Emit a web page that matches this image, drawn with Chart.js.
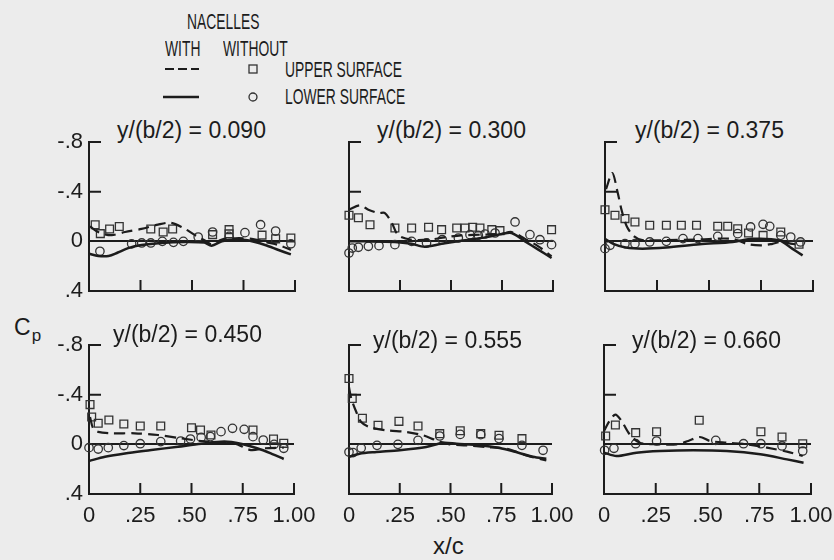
<!DOCTYPE html>
<html>
<head>
<meta charset="utf-8">
<script src="https://cdn.jsdelivr.net/npm/chart.js@4.4.0/dist/chart.umd.min.js"></script>
<style>
body { margin: 0; background: #ececec; width: 834px; height: 560px; overflow: hidden; position: relative;
       font-family: 'Liberation Sans', Arial, sans-serif; color: #1c1c1c; }
canvas, .lbl, svg { position: absolute; }
.lbl { white-space: nowrap; font-size: 22px; line-height: 1; }
.title { font-size: 23px; }
.narrow { font-size: 22px; transform: scaleX(0.63); transform-origin: 0 50%; }
</style>
</head>
<body>
<!-- legend block -->
<div class="lbl narrow" style="left:187px; top:11px">NACELLES</div>
<div class="lbl narrow" style="left:165px; top:38px">WITH</div>
<div class="lbl narrow" style="left:223px; top:38px">WITHOUT</div>
<div class="lbl narrow" style="left:285px; top:59px">UPPER SURFACE</div>
<div class="lbl narrow" style="left:285px; top:86px">LOWER SURFACE</div>
<svg width="834" height="120" style="left:0; top:0">
  <line x1="165" y1="69" x2="199" y2="69" stroke="#1c1c1c" stroke-width="2" stroke-dasharray="9,4"/>
  <rect x="249" y="65" width="8" height="8" fill="none" stroke="#333" stroke-width="1.3"/>
  <line x1="163" y1="97" x2="199" y2="97" stroke="#1c1c1c" stroke-width="2.4"/>
  <circle cx="253" cy="97" r="4" fill="none" stroke="#333" stroke-width="1.3"/>
</svg>
<div class="lbl" style="left:14px; top:316px; font-size:23px">C<span style="font-size:17px; position:relative; top:6px; margin-left:1px">p</span></div>
<div class="lbl" style="left:433px; top:534px; font-size:24px">x/c</div>

<script>
// spanwise stations, one per panel
const stations = ['0.090', '0.300', '0.375', '0.450', '0.555', '0.660'];

const xTickValues = [0, 0.25, 0.5, 0.75, 1];
const xTickLabels = ['0', '.25', '.50', '.75', '1.00'];
const yTickValues = [-0.8, -0.4, 0, 0.4];
const yTickLabels = ['-.8', '-.4', '0', '.4'];

// [x/c, Cp] pairs
// dashed = with nacelles upper, solid = with nacelles lower
// squares = without upper, circles = without lower
const p1Dashed = [[0.005,-0.12],[0.05,-0.07],[0.11,-0.05],[0.175,-0.075],[0.255,-0.1],[0.335,-0.135],[0.395,-0.15],[0.45,-0.115],[0.515,-0.05],[0.57,0],[0.595,0.025],[0.645,-0.015],[0.71,-0.025],[0.79,-0.02],[0.87,0.01],[0.93,0.035],[0.98,0.07]];
const p1Solid = [[0,0.1],[0.045,0.118],[0.095,0.118],[0.14,0.09],[0.19,0.055],[0.255,0.03],[0.35,0.013],[0.465,0.005],[0.56,0.01],[0.595,0.035],[0.645,0],[0.71,-0.015],[0.77,-0.008],[0.855,0.03],[0.92,0.07],[0.98,0.105]];
const p1Squares = [[0.03,-0.134],[0.055,-0.062],[0.1,-0.1],[0.147,-0.12],[0.3,-0.1],[0.36,-0.075],[0.406,-0.1],[0.6,-0.054],[0.68,-0.094],[0.68,-0.06],[0.84,-0.05],[0.906,-0.02],[0.98,-0.027]];
const p1Circles = [[0.053,0.08],[0.207,0.02],[0.256,0.013],[0.3,0.013],[0.356,0],[0.41,0.008],[0.458,0],[0.53,-0.035],[0.6,-0.075],[0.68,-0.04],[0.757,-0.07],[0.833,-0.134],[0.906,-0.083],[0.98,0.02]];

const p2Dashed = [[0,-0.255],[0.054,-0.29],[0.095,-0.255],[0.144,-0.228],[0.176,-0.228],[0.21,-0.148],[0.242,-0.048],[0.307,-0.013],[0.39,-0.013],[0.47,-0.032],[0.55,-0.048],[0.667,-0.054],[0.748,-0.059],[0.797,-0.075],[0.863,-0.02],[0.928,0.04],[0.993,0.12]];
const p2Solid = [[0,0],[0.078,0],[0.225,0.005],[0.307,0.02],[0.37,0.043],[0.454,0.02],[0.55,-0.005],[0.667,-0.032],[0.748,-0.059],[0.797,-0.067],[0.863,0],[0.928,0.067],[0.993,0.134]];
const p2Squares = [[0,-0.21],[0.046,-0.19],[0.103,-0.134],[0.225,-0.107],[0.307,-0.107],[0.39,-0.113],[0.454,-0.094],[0.528,-0.107],[0.569,-0.107],[0.606,-0.113],[0.642,-0.107],[0.7,-0.094],[0.74,-0.086],[0.993,-0.094]];
const p2Circles = [[0,0.094],[0.016,0.054],[0.046,0.048],[0.095,0.04],[0.147,0.035],[0.225,0.027],[0.307,0],[0.38,0.013],[0.457,-0.013],[0.536,-0.027],[0.593,-0.054],[0.634,-0.048],[0.667,-0.059],[0.716,-0.067],[0.814,-0.156],[0.887,-0.054],[0.936,-0.013],[0.993,0.027]];

const p3Dashed = [[0.005,-0.42],[0.035,-0.55],[0.06,-0.4],[0.08,-0.25],[0.105,-0.12],[0.14,-0.04],[0.18,-0.01],[0.3,-0.01],[0.45,-0.015],[0.61,-0.02],[0.69,0.024],[0.757,0.032],[0.805,0.02],[0.845,0.005],[0.9,0.02],[0.94,0.03]];
const p3Solid = [[0,-0.02],[0.04,0.02],[0.1,0.05],[0.18,0.059],[0.295,0.05],[0.455,0.024],[0.614,0.005],[0.71,-0.02],[0.837,-0.008],[0.9,0.059],[0.95,0.113]];
const p3Squares = [[0,-0.255],[0.048,-0.21],[0.096,-0.183],[0.144,-0.156],[0.215,-0.129],[0.295,-0.129],[0.367,-0.129],[0.44,-0.129],[0.542,-0.121],[0.59,-0.121],[0.638,-0.102],[0.69,-0.067],[0.76,-0.048],[0.845,-0.075],[0.933,0.024]];
const p3Circles = [[0,0.059],[0.024,0.032],[0.096,0.019],[0.144,0.019],[0.215,0.005],[0.295,0],[0.375,-0.022],[0.447,-0.022],[0.542,-0.04],[0.638,-0.062],[0.7,-0.116],[0.76,-0.137],[0.792,-0.121],[0.845,-0.048],[0.893,-0.035],[0.94,0.005]];

const p4Dashed = [[0.005,-0.22],[0.02,-0.13],[0.045,-0.1],[0.11,-0.089],[0.223,-0.089],[0.337,-0.075],[0.45,-0.048],[0.547,-0.027],[0.644,-0.016],[0.71,-0.008],[0.79,0.046],[0.855,0.032],[0.95,0.027]];
const p4Solid = [[0,0.134],[0.078,0.1],[0.175,0.073],[0.304,0.046],[0.434,0.019],[0.547,-0.005],[0.66,-0.022],[0.74,-0.005],[0.82,0.032],[0.887,0.073],[0.95,0.118]];
const p4Squares = [[0.005,-0.32],[0.013,-0.22],[0.045,-0.17],[0.097,-0.196],[0.17,-0.164],[0.25,-0.148],[0.35,-0.148],[0.5,-0.134],[0.544,-0.116],[0.595,-0.075],[0.8,-0.116],[0.9,-0.043],[0.95,-0.008]];
const p4Circles = [[0,0.027],[0.045,0.038],[0.094,0.027],[0.17,0.01],[0.25,-0.005],[0.35,-0.022],[0.447,-0.027],[0.495,-0.043],[0.547,-0.056],[0.592,-0.062],[0.644,-0.102],[0.7,-0.129],[0.757,-0.121],[0.8,-0.062],[0.85,-0.035],[0.903,0],[0.95,0.032]];

const p5Dashed = [[0,-0.46],[0.011,-0.37],[0.036,-0.26],[0.06,-0.18],[0.1,-0.14],[0.184,-0.113],[0.282,-0.1],[0.365,-0.073],[0.43,-0.032],[0.496,0],[0.578,0.008],[0.677,0.022],[0.775,0.035],[0.874,0.089],[0.972,0.13]];
const p5Solid = [[0,0.1],[0.052,0.075],[0.135,0.062],[0.25,0.048],[0.38,0.022],[0.463,-0.013],[0.53,-0.005],[0.644,0.008],[0.742,0.03],[0.808,0.056],[0.906,0.1],[0.972,0.116]];
const p5Squares = [[0,-0.53],[0.016,-0.37],[0.066,-0.21],[0.143,-0.153],[0.246,-0.185],[0.34,-0.148],[0.447,-0.086],[0.548,-0.11],[0.649,-0.086],[0.739,-0.073],[0.852,-0.046]];
const p5Circles = [[0,0.062],[0.02,0.067],[0.06,0.03],[0.138,0.008],[0.241,0],[0.34,-0.032],[0.447,-0.067],[0.548,-0.08],[0.649,-0.078],[0.739,-0.046],[0.852,0.008],[0.956,0.048]];

const p6Dashed = [[0,-0.107],[0.027,-0.19],[0.055,-0.24],[0.084,-0.19],[0.124,-0.08],[0.173,-0.013],[0.27,0],[0.35,0],[0.407,-0.027],[0.463,-0.059],[0.512,-0.027],[0.593,-0.013],[0.69,0],[0.787,0.027],[0.884,0.059],[0.96,0.094]];
const p6Solid = [[0,0.067],[0.06,0.094],[0.157,0.067],[0.27,0.054],[0.43,0.048],[0.593,0.054],[0.755,0.08],[0.884,0.121],[0.964,0.148]];
const p6Squares = [[0.008,-0.067],[0.055,-0.156],[0.153,-0.094],[0.254,-0.102],[0.46,-0.194],[0.758,-0.102],[0.86,-0.059],[0.96,-0.005]];
const p6Circles = [[0.003,0.048],[0.048,0.032],[0.153,-0.005],[0.254,-0.027],[0.54,-0.032],[0.674,-0.005],[0.758,-0.005],[0.86,0.013],[0.96,0.054]];

const ink = '#1c1c1c';
const yAxisW = 45, xAxisH = 40, padTop = 14, padRight = 30;

// where each panel's plot area sits on the page
const panels = [
  { dashed: p1Dashed, solid: p1Solid, squares: p1Squares, circles: p1Circles, left: 89, right: 295, top: 142, bottom: 291, tx: 117, ty: 119, yLabels: true, xLabels: false },
  { dashed: p2Dashed, solid: p2Solid, squares: p2Squares, circles: p2Circles, left: 349, right: 553, top: 142, bottom: 291, tx: 377, ty: 119, yLabels: false, xLabels: false },
  { dashed: p3Dashed, solid: p3Solid, squares: p3Squares, circles: p3Circles, left: 605, right: 813, top: 142, bottom: 291, tx: 635, ty: 119, yLabels: false, xLabels: false },
  { dashed: p4Dashed, solid: p4Solid, squares: p4Squares, circles: p4Circles, left: 89, right: 294, top: 345, bottom: 494, tx: 113, ty: 323, yLabels: true, xLabels: true },
  { dashed: p5Dashed, solid: p5Solid, squares: p5Squares, circles: p5Circles, left: 349, right: 552, top: 345, bottom: 494, tx: 373, ty: 329, yLabels: false, xLabels: true },
  { dashed: p6Dashed, solid: p6Solid, squares: p6Squares, circles: p6Circles, left: 604, right: 811, top: 345, bottom: 494, tx: 632, ty: 329, yLabels: false, xLabels: true }
];

function toXY(pairs) {
  return pairs.map(p => ({ x: p[0], y: p[1] }));
}

// short tick marks pointing into the plot
const innerTicks = {
  id: 'innerTicks',
  afterDraw(chart) {
    const { ctx, chartArea: a, scales: { x, y } } = chart;
    ctx.save();
    ctx.strokeStyle = ink;
    ctx.lineWidth = 2;
    ctx.beginPath();
    yTickValues.forEach(v => {
      if (v < 0) {
        const py = y.getPixelForValue(v);
        ctx.moveTo(a.left, py);
        ctx.lineTo(a.left + 12, py);
      }
    });
    xTickValues.forEach(v => {
      if (v > 0) {
        const px = x.getPixelForValue(v);
        ctx.moveTo(px, a.bottom);
        ctx.lineTo(px, a.bottom - 11);
      }
    });
    ctx.stroke();
    ctx.restore();
  }
};

Chart.defaults.font.family = "'Liberation Sans', Arial, sans-serif";
Chart.defaults.font.size = 22;
Chart.defaults.color = ink;

panels.forEach((p, i) => {
  const title = document.createElement('div');
  title.className = 'lbl title';
  title.style.left = p.tx + 'px';
  title.style.top = p.ty + 'px';
  title.textContent = 'y/(b/2) = ' + stations[i];
  document.body.appendChild(title);

  const canvas = document.createElement('canvas');
  canvas.width = p.right - p.left + yAxisW + padRight;
  canvas.height = p.bottom - p.top + xAxisH + padTop;
  canvas.style.left = (p.left - yAxisW) + 'px';
  canvas.style.top = (p.top - padTop) + 'px';
  document.body.appendChild(canvas);

  new Chart(canvas.getContext('2d'), {
    type: 'scatter',
    data: {
      datasets: [
        { data: toXY(p.dashed), showLine: true, borderColor: ink, borderWidth: 2.2, borderDash: [11, 6], pointRadius: 0, tension: 0.3, clip: false },
        { data: toXY(p.solid), showLine: true, borderColor: ink, borderWidth: 2.5, pointRadius: 0, tension: 0.3, clip: false },
        { data: toXY(p.squares), pointStyle: 'rect', pointRadius: 5.5, borderColor: '#333', borderWidth: 1.3, backgroundColor: 'rgba(0,0,0,0)', clip: false },
        { data: toXY(p.circles), pointStyle: 'circle', pointRadius: 4.2, borderColor: '#333', borderWidth: 1.3, backgroundColor: 'rgba(0,0,0,0)', clip: false }
      ]
    },
    options: {
      responsive: false,
      animation: false,
      events: [],
      layout: { padding: { top: padTop, right: padRight, left: 0, bottom: 0 } },
      plugins: { legend: { display: false }, tooltip: { enabled: false } },
      scales: {
        x: {
          type: 'linear', min: 0, max: 1,
          afterBuildTicks: s => { s.ticks = xTickValues.map(v => ({ value: v })); },
          afterFit: s => { s.height = xAxisH; s.paddingLeft = 0; s.paddingRight = 0; s.paddingTop = 0; s.paddingBottom = 0; },
          grid: { display: false, drawTicks: false },
          border: { display: true, color: ink, width: 2 },
          ticks: { display: p.xLabels, padding: 9, maxRotation: 0, autoSkip: false, callback: (v, k) => xTickLabels[k] }
        },
        y: {
          type: 'linear', reverse: true, min: -0.8, max: 0.4,
          afterBuildTicks: s => { s.ticks = yTickValues.map(v => ({ value: v })); },
          afterFit: s => { s.width = yAxisW; s.paddingLeft = 0; s.paddingRight = 0; s.paddingTop = 0; s.paddingBottom = 0; },
          grid: { drawTicks: false, lineWidth: 2, color: c => (c.tick && Math.abs(c.tick.value) < 1e-9) ? ink : 'rgba(0,0,0,0)' },
          border: { display: true, color: ink, width: 2 },
          ticks: { display: p.yLabels, padding: 6, autoSkip: false, callback: (v, k) => yTickLabels[k] }
        }
      }
    },
    plugins: [innerTicks]
  });
});
</script>
</body>
</html>
